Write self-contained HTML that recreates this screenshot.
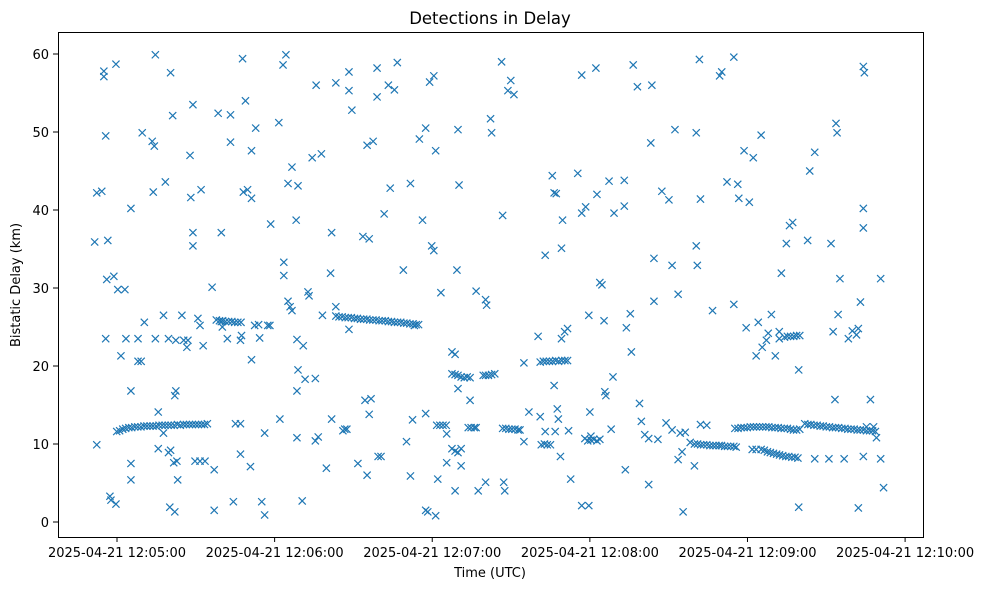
<!DOCTYPE html>
<html><head><meta charset="utf-8"><style>
body{margin:0;background:#fff}
svg{display:block}
text{font-family:"DejaVu Sans","Liberation Sans",sans-serif;fill:#000}
</style></head><body>
<svg id="chart" width="988" height="590">
<rect x="0" y="0" width="988" height="590" fill="#fff"/>
<text x="490" y="24" font-size="16.5" text-anchor="middle">Detections in Delay</text>
<text x="490" y="577" font-size="13" text-anchor="middle">Time (UTC)</text>
<text x="20" y="285" font-size="13" text-anchor="middle" transform="rotate(-90 20 285)">Bistatic Delay (km)</text>
<g id="marks"></g>
<g id="axes"></g>
<rect x="58.5" y="32.5" width="865" height="505" fill="none" stroke="#000" stroke-width="1"/>
</svg>
<script>
const xTickSeconds = [0, 60, 120, 180, 240, 300];
const xTickLabels = ["2025-04-21 12:05:00","2025-04-21 12:06:00","2025-04-21 12:07:00","2025-04-21 12:08:00","2025-04-21 12:09:00","2025-04-21 12:10:00"];
const yTicks = [0, 10, 20, 30, 40, 50, 60];
// scattered detections: [seconds after 12:05:00, delay km]
const scatterDetections = [[-8.5,35.9],[-7.7,42.2],[-5.8,42.4],[-7.7,9.9],[-5,57.8],[-5,57.1],[-4.3,49.5],[-3.5,36.1],[-3.9,31.1],[-4.3,23.5],[-2.7,3.3],[-2.3,2.8],[-1.2,31.5],[-0.4,58.7],[-0.4,2.3],[0.3,29.8],[1.5,21.3],[3,29.8],[3.4,23.5],[5.3,40.2],[5.3,7.5],[5.3,5.4],[5.3,16.8],[8,23.5],[8,20.6],[9.2,20.6],[9.6,49.9],[10.4,25.6],[13.4,48.8],[14.2,48.2],[13.8,42.3],[14.6,59.9],[14.6,23.5],[15.7,14.1],[15.7,9.4],[17.7,11.4],[17.7,26.5],[18.4,43.6],[19.6,23.5],[21.2,52.1],[20.4,57.6],[22.4,23.3],[20.1,1.9],[22,1.3],[23.1,5.4],[21.6,7.6],[22.8,7.8],[20.4,9.2],[19.6,8.9],[22.4,16.8],[22,16.2],[24.7,26.5],[25.4,23.3],[27,23.3],[26.6,22.4],[27.8,47],[28.1,41.6],[28.9,37.1],[28.9,35.4],[28.9,53.5],[29.7,7.8],[31.6,7.8],[33.5,7.8],[32,42.6],[30.8,26.1],[31.6,25.2],[32.8,22.6],[36.2,30.1],[37,6.7],[37,1.5],[38.5,52.4],[39.7,37.1],[40.1,25],[39.7,25.7],[42,23.5],[43.2,52.2],[43.2,48.7],[44.3,2.6],[45.1,12.6],[47,8.7],[47,12.6],[47,23.3],[47.4,23.9],[47.8,59.4],[48.9,54],[48.1,42.3],[49.7,42.6],[51.2,41.5],[51.2,47.6],[52.8,50.5],[50.8,7.1],[51.2,20.8],[52.4,25.2],[54.3,23.6],[53.9,25.3],[55.1,2.6],[56.2,0.9],[56.2,11.4],[58.5,38.2],[57.4,25.2],[58.2,25.2],[61.6,51.2],[62,13.2],[63.5,33.3],[63.5,31.6],[63.2,58.6],[64.3,59.9],[65.1,28.3],[65.9,27.6],[65.1,43.4],[66.6,45.5],[66.6,27.1],[68.2,38.7],[68.5,23.4],[68.9,43.1],[68.5,10.8],[68.5,16.8],[68.9,19.5],[70.5,2.7],[71.6,18.3],[70.9,22.6],[72.7,29.5],[73.1,29],[74.3,46.7],[75.5,18.4],[75.5,10.4],[76.6,10.9],[75.8,56],[77.8,47.2],[78.2,26.5],[79.7,6.9],[81.7,13.2],[81.3,31.9],[81.7,37.1],[83.3,56.3],[83.3,27.6],[86,11.7],[86.7,11.9],[87.5,11.9],[88.3,57.7],[88.3,55.3],[89.4,52.8],[88.3,24.7],[91.7,7.5],[93.6,36.6],[94.4,15.6],[95.2,6],[96,13.8],[96.7,15.8],[96,36.3],[95.2,48.3],[97.5,48.8],[99,58.2],[99,54.5],[99.4,8.4],[100.5,8.4],[101.7,39.5],[103.3,56],[104,42.8],[105.6,55.4],[106.7,58.9],[109,32.3],[110.2,10.3],[111.7,5.9],[111.7,43.4],[112.5,13.1],[113.2,25.2],[115.1,49.1],[116.3,38.7],[117.5,50.5],[117.5,13.9],[117.5,1.5],[118.3,1.3],[119,56.4],[120.6,57.2],[119.8,35.4],[120.6,34.8],[121.3,47.6],[121.3,0.8],[122.1,5.5],[123.3,29.4],[125.5,7.6],[125.5,11.3],[127.5,21.8],[128.7,21.5],[127.5,9.4],[128.7,9.1],[129.8,8.9],[131,9.4],[129.8,17.1],[129.4,32.3],[128.7,4],[130.2,43.2],[131,7.2],[129.8,50.3],[134.4,15.6],[136.7,29.6],[137.5,4],[140.3,5.1],[140.3,28.5],[140.7,27.8],[142.2,51.7],[142.6,49.9],[146.4,59],[146.8,39.3],[147.6,4],[147.2,5.1],[148.8,55.3],[149.9,56.6],[151.1,54.8],[154.9,10.3],[154.9,20.4],[156.8,14.1],[160.3,23.8],[161.1,13.5],[163,34.2],[163,11.6],[165.7,44.4],[166.4,42.2],[167.2,42.1],[166.4,17.5],[166.8,11.6],[167.6,14.5],[168,13.2],[168.8,8.4],[169.2,35.1],[169.2,23.5],[169.6,38.7],[170.4,24.4],[171.5,24.8],[171.9,11.7],[172.7,5.5],[175.4,44.7],[176.9,2.1],[176.9,57.3],[176.9,39.6],[178.4,40.4],[179.6,2.1],[180,14.1],[179.6,26.5],[180.4,11],[182.3,58.2],[182.7,42],[183.8,30.7],[184.6,30.4],[185.4,25.8],[185.7,16.7],[186.1,16.2],[187.3,43.7],[188.8,18.6],[189.2,39.6],[188.1,11.9],[193.1,43.8],[193.1,40.5],[193.5,6.7],[193.9,24.9],[195.4,26.7],[195.8,21.8],[196.5,58.6],[198.1,55.8],[198.9,15.2],[199.6,12.9],[200.9,11.2],[202.4,10.7],[202.4,4.8],[203.6,56],[203.2,48.6],[204.4,33.8],[204.4,28.3],[205.9,10.6],[207.4,42.4],[209,12.7],[210.1,41.3],[211.3,11.8],[211.3,32.9],[212.4,50.3],[213.6,29.2],[213.6,8],[214.4,11.4],[215.5,1.3],[215.1,9],[216.3,11.5],[218.2,10.2],[220.5,35.4],[220.9,32.9],[220.5,49.9],[221.7,59.3],[222.1,41.4],[219.8,7.2],[222.1,12.5],[224.5,12.4],[226.7,27.1],[229.4,57.2],[230.2,57.7],[232.2,43.6],[234.8,59.6],[234.8,27.9],[236.3,43.3],[236.7,41.5],[238.7,47.6],[239.5,24.9],[240.7,41],[241.8,9.3],[243.3,9.3],[242.2,46.7],[243.3,21.3],[244.1,25.6],[245.2,49.6],[245.6,22.4],[247.2,23.3],[247.9,24.2],[249.1,26.6],[250.6,21.3],[252.1,23.5],[252.1,24.4],[252.9,31.9],[254.8,35.7],[256,38],[257.2,38.4],[259.5,19.5],[259.5,1.9],[262.9,36.1],[263.7,45],[265.6,47.4],[271.8,35.7],[272.6,24.4],[273.7,51.1],[274.1,49.9],[273.3,15.7],[274.5,26.6],[275.2,31.2],[276.8,8.1],[278.4,23.5],[279.9,24.5],[281.5,24],[282.2,24.8],[282.2,1.8],[283,28.2],[284.1,58.4],[284.5,57.6],[284.1,40.2],[284.1,37.7],[284.1,8.4],[285.3,12.2],[286.8,15.7],[288,12.2],[289.1,10.8],[290.7,31.2],[290.7,8.1],[291.8,4.4],[271,8.1],[265.6,8.1]];
// dense tracks
const trackA = [[-0.1,11.6],[1,11.7],[2.2,11.9],[3.3,12.0],[4.5,12.1],[5.6,12.1],[6.8,12.2],[7.9,12.2],[9.1,12.2],[10.3,12.3],[11.4,12.3],[12.6,12.3],[13.7,12.3],[14.9,12.3],[16,12.4],[17.2,12.4],[18.3,12.4],[19.5,12.4],[20.6,12.4],[21.8,12.4],[23,12.5],[24.1,12.4],[25.3,12.5],[26.4,12.5],[27.6,12.5],[28.7,12.5],[29.9,12.5],[31,12.5],[32.2,12.5],[33.3,12.5],[34.4,12.6]];
const trackB = [[37.8,25.9],[39,25.8],[40.2,25.8],[41.3,25.7],[42.5,25.7],[43.7,25.7],[44.8,25.6],[46,25.6],[47.2,25.6]];
const trackC = [[83.3,26.4],[84.5,26.3],[85.7,26.3],[86.9,26.2],[88,26.2],[89.2,26.2],[90.4,26.1],[91.5,26.1],[92.7,26.0],[93.9,26.0],[95.1,26.0],[96.2,25.9],[97.4,25.9],[98.6,25.9],[99.8,25.8],[100.9,25.8],[102.1,25.8],[103.3,25.7],[104.5,25.7],[105.6,25.6],[106.8,25.6],[108,25.6],[109.2,25.5],[110.3,25.5],[111.5,25.4],[112.7,25.4],[113.9,25.3],[114.8,25.3]];
const trackD = [[121.7,12.4],[122.9,12.4],[124.1,12.4],[125.3,12.4],[127.5,19],[128.7,18.9],[129.8,18.8],[131,18.6],[132.2,18.5],[133.3,18.6],[134.4,18.5],[133.7,12.1],[134.8,12.1],[136,12.1],[136.7,12.1],[139.4,18.8],[140.3,18.8],[141.4,18.8],[142.6,18.9],[143.8,19],[146.8,12],[148,12],[149.2,11.9],[150.3,11.9],[151.5,11.9],[152.7,11.8],[153.4,11.8]];
const trackE = [[161.1,20.5],[162.3,20.6],[163.4,20.6],[164.6,20.6],[165.8,20.6],[167,20.7],[168.1,20.6],[169.3,20.7],[170.5,20.7],[171.5,20.7],[161.5,9.9],[162.7,10],[163.8,9.9],[165,9.9],[178.1,10.7],[179.2,10.4],[180.4,10.5],[181.5,10.6],[182.7,10.4],[183.8,10.6]];
const trackF = [[219.8,10],[221,10],[222.2,9.9],[223.3,9.9],[224.5,9.9],[225.7,9.8],[226.9,9.8],[228,9.8],[229.2,9.8],[230.1,9.8],[231.3,9.7],[232.4,9.7],[233.6,9.7],[234.8,9.7],[235.7,9.6]];
const trackG = [[235.2,12.0],[236.4,12.0],[237.6,12.1],[238.7,12.1],[239.9,12.1],[241.1,12.2],[242.3,12.2],[243.4,12.2],[244.6,12.2],[245.8,12.2],[247,12.2],[248.1,12.2],[249.3,12.1],[250.5,12.1],[251.7,12.1],[252.8,12.0],[254,12.0],[255.2,12.0],[256.4,11.9],[257.5,11.8],[258.7,11.8],[259.9,11.9]];
const trackH = [[261.8,12.6],[263,12.5],[264.1,12.5],[265.3,12.4],[266.5,12.4],[267.7,12.3],[268.8,12.3],[270,12.2],[271.2,12.2],[272.4,12.1],[273.5,12.1],[274.7,12.1],[275.9,12.0],[277.1,12.0],[278.2,11.9],[279.4,11.9],[280.6,11.9],[281.8,11.8],[282.9,11.8],[284.1,11.8],[285.3,11.7],[286.5,11.7],[287.6,11.7],[288.7,11.6]];
const trackI = [[245.2,9.3],[246.4,9.2],[247.6,9],[248.7,8.9],[249.9,8.8],[251.1,8.7],[252.2,8.6],[253.4,8.5],[254.6,8.4],[255.7,8.4],[256.9,8.3],[258.1,8.3],[259.2,8.2],[254.1,23.7],[255.2,23.8],[256.4,23.8],[257.6,23.8],[258.7,23.9],[259.9,23.9]];

const X0=117, XS=2.627, Y0=522, YS=7.8;
function xScale(s){return X0+s*XS;}
function yScale(d){return Y0-d*YS;}
const NS="http://www.w3.org/2000/svg";
const marks=document.getElementById('marks');
const axes=document.getElementById('axes');
const all=[].concat(scatterDetections,trackA,trackB,trackC,trackD,trackE,trackF,trackG,trackH,trackI);
all.forEach(p=>{
  const x=xScale(p[0]), y=yScale(p[1]), r=3.6;
  const path=document.createElementNS(NS,'path');
  path.setAttribute('d',`M${x-r},${y-r}L${x+r},${y+r}M${x-r},${y+r}L${x+r},${y-r}`);
  path.setAttribute('stroke','#1f77b4');
  path.setAttribute('stroke-width','1.2');
  path.setAttribute('fill','none');
  
  
  marks.appendChild(path);
});
xTickSeconds.forEach((s,i)=>{
  const x=xScale(s);
  const l=document.createElementNS(NS,'line');
  l.setAttribute('x1',x);l.setAttribute('x2',x);l.setAttribute('y1',537);l.setAttribute('y2',542);
  l.setAttribute('stroke','#000');
  
  
  axes.appendChild(l);
  const t=document.createElementNS(NS,'text');
  t.setAttribute('x',x);t.setAttribute('y',557);t.setAttribute('font-size','13');t.setAttribute('text-anchor','middle');
  t.textContent=xTickLabels[i];
  
  
  axes.appendChild(t);
});
yTicks.forEach(v=>{
  const y=yScale(v);
  const l=document.createElementNS(NS,'line');
  l.setAttribute('x1',53);l.setAttribute('x2',58);l.setAttribute('y1',y);l.setAttribute('y2',y);
  l.setAttribute('stroke','#000');
  
  
  axes.appendChild(l);
  const t=document.createElementNS(NS,'text');
  t.setAttribute('x',49);t.setAttribute('y',y+5);t.setAttribute('font-size','13');t.setAttribute('text-anchor','end');
  t.textContent=v;
  
  
  axes.appendChild(t);
});
</script>
</body></html>
